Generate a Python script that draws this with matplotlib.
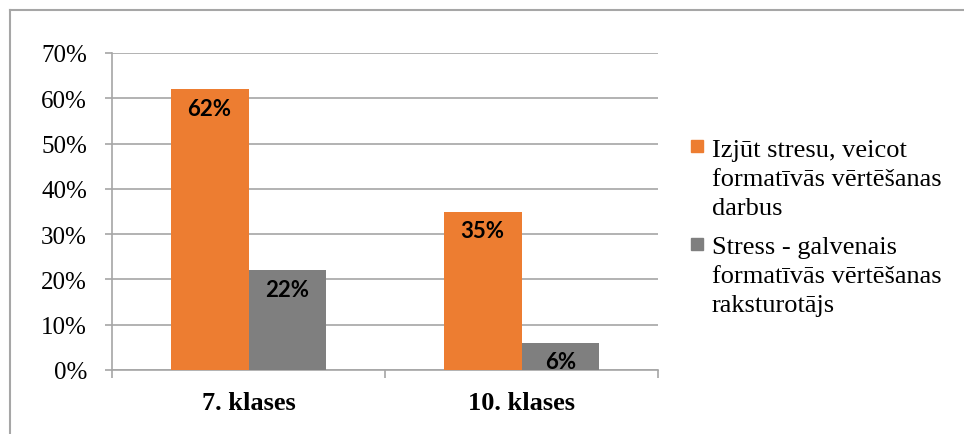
import numpy as np
import matplotlib
matplotlib.use('Agg')
import matplotlib.pyplot as plt
import matplotlib.patches as patches
from matplotlib.lines import Line2D
from matplotlib.ticker import FuncFormatter, MultipleLocator, FixedLocator

# Data:
categories = ['7. klases', '10. klases']
series_names = ['Izjūt stresu, veicot\nformatīvās vērtēšanas\ndarbus',
                'Stress - galvenais\nformatīvās vērtēšanas\nraksturotājs']
stress_felt = [0.62, 0.35]
stress_main = [0.22, 0.06]
colors = ['#ED7D31', '#7F7F7F']

W, H = 964, 435
fig = plt.figure(figsize=(W / 100, H / 100), dpi=100)
fig.set_facecolor('white')

serif = 'Liberation Serif'
label_font = 'Lato'

# Axes placed in pixel terms of the reference:
ax = fig.add_axes([112 / W, 1 - 371 / H, (658 - 112) / W, (371 - 54) / H])

x = np.arange(len(categories))
bw = 0.285
bars1 = ax.bar(x - bw / 2, stress_felt, bw, color=colors[0], zorder=3)
bars2 = ax.bar(x + bw / 2, stress_main, bw, color=colors[1], zorder=3)

# Value labels just inside the top of every bar
for bars, vals in [(bars1, stress_felt), (bars2, stress_main)]:
    for b, v in zip(bars, vals):
        ax.annotate(f'{v * 100:.0f}%', xy=(b.get_x() + b.get_width() / 2, v),
                    xytext=(0, -6), textcoords='offset points',
                    ha='center', va='top', fontsize=16, fontweight='bold',
                    family=label_font, color='black', zorder=4)

ax.set_xlim(-0.5, len(categories) - 0.5)
ax.set_ylim(0, 0.70)
ax.yaxis.set_major_locator(MultipleLocator(0.10))
ax.yaxis.set_major_formatter(FuncFormatter(lambda v, p: f'{v * 100:.0f}%'))
ax.grid(axis='y', color='#A6A6A6', linewidth=1.2, zorder=0)

ax.set_xticks(x)
ax.set_xticklabels(categories, family=serif, fontsize=19, fontweight='bold')
ax.xaxis.set_minor_locator(FixedLocator(np.arange(len(categories) + 1) - 0.5))
ax.tick_params(axis='x', which='major', length=0, pad=15)
ax.tick_params(axis='x', which='minor', length=6, color='#A6A6A6', width=1.2, direction='out')
ax.tick_params(axis='y', length=5, color='#A6A6A6', width=1.2, pad=13, labelsize=18)
for lab in ax.get_yticklabels():
    lab.set_family(serif)

for side in ['top', 'right']:
    ax.spines[side].set_visible(False)
for side in ['left', 'bottom']:
    ax.spines[side].set_color('#A6A6A6')
    ax.spines[side].set_linewidth(1.2)

# Legend drawn by hand so the squares line up with the first text line
legend_top = [140, 237]
square_y = [141, 239]
for name, col, yt, ys in zip(series_names, colors, legend_top, square_y):
    sq = patches.Rectangle((691 / W, 1 - (ys + 12) / H), 12 / W, 12 / H,
                           transform=fig.transFigure, color=col)
    fig.add_artist(sq)
    fig.text(712 / W, 1 - yt / H, name, family=serif, fontsize=19,
             va='top', ha='left', linespacing=1.4)

# Outer chart frame (only top and left edges visible in the reference)
fig.add_artist(Line2D([10 / W, 1], [1 - 11 / H, 1 - 11 / H], transform=fig.transFigure,
                      color='#A6A6A6', linewidth=1.5))
fig.add_artist(Line2D([10 / W, 10 / W], [0, 1 - 11 / H], transform=fig.transFigure,
                      color='#A6A6A6', linewidth=1.5))

fig.savefig('out.png', dpi=100, facecolor='white')
